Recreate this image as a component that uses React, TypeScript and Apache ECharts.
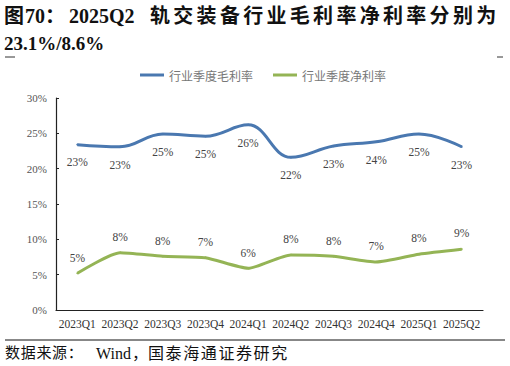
import React, { useEffect, useRef } from "react";
import * as echarts from "echarts";

const categories = ["2023Q1", "2023Q2", "2023Q3", "2023Q4", "2024Q1", "2024Q2", "2024Q3", "2024Q4", "2025Q1", "2025Q2"];
const grossMargin = [23.4, 23.1, 24.9, 24.6, 26.2, 21.6, 23.2, 23.8, 24.9, 23.1];
const netMargin = [5.2, 8.1, 7.6, 7.4, 5.9, 7.8, 7.6, 6.8, 7.9, 8.6];
const yTicks = [0, 5, 10, 15, 20, 25, 30];
const seriesNames = ["行业季度毛利率", "行业季度净利率"];
const titlePrefix = ["图", "70", "：", "2025Q2"];
const titleCjk = "轨交装备行业毛利率净利率分别为";
const titleLine2 = "23.1%/8.6%";
const sourcePart1 = "数据来源：";
const sourceWind = "Wind";
const sourceComma = "，";
const sourcePart2 = "国泰海通证券研究";

const SERIF = "Liberation Serif, Noto Sans CJK SC, serif";
const CJK = "Noto Sans CJK SC, sans-serif";

function textEl(text: string, x: number, y: number, font: string) {
  return {
    type: "text",
    x,
    y,
    style: { text, font, fill: "#111", textVerticalAlign: "middle", textAlign: "left" },
  };
}

function spaced(chars: string, x0: number, y: number, pitch: number, font: string) {
  return Array.from(chars).map((c, i) => textEl(c, x0 + i * pitch, y, font));
}

export default function App() {
  const ref = useRef<HTMLDivElement>(null);
  useEffect(() => {
    if (!ref.current) return;
    const chart = echarts.init(ref.current, null, { renderer: "svg" });
    const titleFont = `bold 20px ${SERIF}`;
    const prefixX = [4, 25, 45, 69];
    const labelCommon = {
      show: true,
      fontFamily: SERIF,
      fontSize: 11.5,
      color: "#444",
      formatter: (p: any) => Math.round(p.value) + "%",
    };
    chart.setOption({
      animation: false,
      backgroundColor: "#ffffff",
      grid: { left: 56, right: 27, top: 98, bottom: 56 },
      legend: {
        top: 64,
        left: 135,
        itemGap: 20,
        itemWidth: 24,
        itemHeight: 3,
        icon: "rect",
        textStyle: { fontFamily: CJK, fontSize: 12, color: "#777" },
        data: seriesNames,
      },
      xAxis: {
        type: "category",
        data: categories,
        boundaryGap: true,
        axisLine: { lineStyle: { color: "#222", width: 1.2 } },
        axisTick: { inside: true, length: 4, lineStyle: { color: "#222" } },
        axisLabel: { fontFamily: SERIF, fontSize: 11.5, color: "#333", margin: 8, interval: 0 },
      },
      yAxis: {
        type: "value",
        min: yTicks[0],
        max: yTicks[yTicks.length - 1],
        interval: 5,
        axisLine: { show: true, lineStyle: { color: "#222", width: 1.2 } },
        axisTick: { show: true, inside: true, length: 3, lineStyle: { color: "#222" } },
        splitLine: { show: false },
        axisLabel: { fontFamily: SERIF, fontSize: 11, color: "#555", margin: 9, formatter: "{value}%" },
      },
      series: [
        {
          name: seriesNames[0],
          type: "line",
          smooth: 0.4,
          data: grossMargin,
          symbol: "circle",
          symbolSize: 2,
          showSymbol: true,
          lineStyle: { color: "#4a78b0", width: 3 },
          itemStyle: { color: "#4a78b0" },
          label: { ...labelCommon, position: "bottom", distance: 11 },
        },
        {
          name: seriesNames[1],
          type: "line",
          smooth: 0.2,
          data: netMargin,
          symbol: "circle",
          symbolSize: 2,
          showSymbol: true,
          lineStyle: { color: "#94b455", width: 3 },
          itemStyle: { color: "#94b455" },
          label: { ...labelCommon, position: "top", distance: 9 },
        },
      ],
      graphic: [
        ...titlePrefix.map((t, i) => textEl(t, prefixX[i], 16, titleFont)),
        ...spaced(titleCjk, 150, 16, 23.3, titleFont),
        textEl(titleLine2, 4, 43, `bold 19px ${SERIF}`),
        { type: "line", shape: { x1: 5, y1: 57, x2: 15, y2: 57 }, style: { stroke: "#333", lineWidth: 1 } },
        { type: "line", shape: { x1: 497, y1: 57, x2: 503, y2: 57 }, style: { stroke: "#333", lineWidth: 1 } },
        { type: "line", shape: { x1: 5, y1: 340, x2: 505, y2: 340 }, style: { stroke: "#111", lineWidth: 1 } },
        ...spaced(sourcePart1, 5, 353, 15.7, `15px ${SERIF}`),
        textEl(sourceWind, 96, 353, `16px ${SERIF}`),
        textEl(sourceComma, 132, 353, `16px ${SERIF}`),
        ...spaced(sourcePart2, 148, 353, 17.6, `16px ${SERIF}`),
      ],
    });
    return () => chart.dispose();
  }, []);
  return <div ref={ref} style={{ width: 510, height: 366, position: "absolute", left: 0, top: 0 }} />;
}
